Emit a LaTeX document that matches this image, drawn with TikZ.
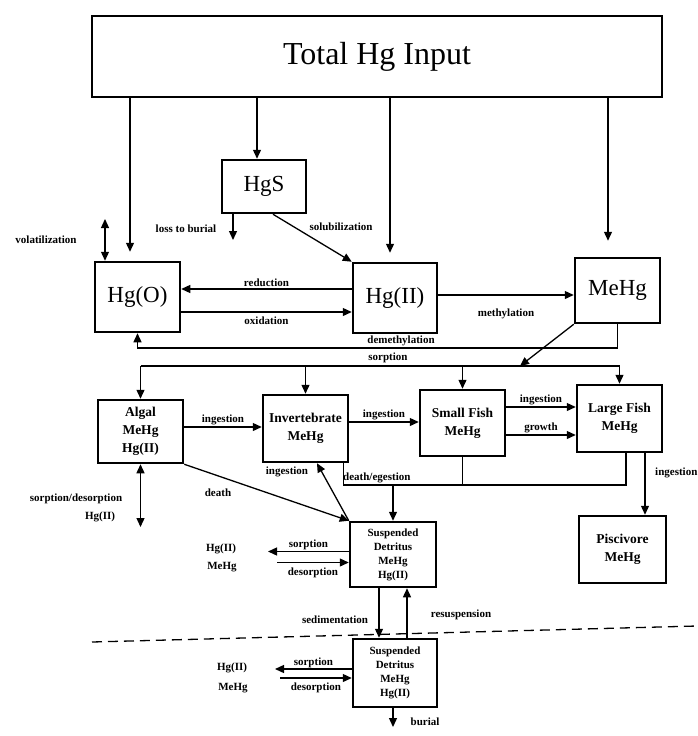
\documentclass[tikz,border=0pt]{standalone}
\usepackage{fontspec}
\setmainfont{Liberation Serif}
\usetikzlibrary{arrows.meta,calc,positioning}
\tikzset{wire/.style={line width=1.3pt}, flow/.style={wire, -{Triangle[length=9pt,width=8pt]}}, both/.style={wire, {Triangle[length=9pt,width=8pt]}-{Triangle[length=9pt,width=8pt]}}, box/.style={draw, line width=2.5pt, inner sep=0pt, align=center}, bigbox/.style={box, font=\fontsize{23}{26}\selectfont}, midbox/.style={box, font=\bfseries\fontsize{13.5}{18}\selectfont}, detbox/.style={box, font=\bfseries\fontsize{11}{14}\selectfont}, lab/.style={font=\bfseries\fontsize{11}{13}\selectfont, inner sep=1pt}}
\begin{document}
\begin{tikzpicture}[x=1pt,y=-1pt]
\useasboundingbox (0,0) rectangle (697,736);
\node[box, line width=1.8pt, minimum width=570pt, minimum height=81pt, font=\fontsize{32}{36}\selectfont] (total) at (377,56.5) {Total Hg Input};
\node[bigbox, minimum width=84pt, minimum height=53pt] (hgs) at (264,186.5) {HgS};
\node[bigbox, minimum width=85pt, minimum height=70pt] (hgo) at (137.5,297) {Hg(O)};
\node[bigbox, minimum width=84pt, minimum height=70pt] (hgii) at (395,298) {Hg(II)};
\node[bigbox, minimum width=85pt, minimum height=65pt] (mehg) at (617.5,290.5) {MeHg};
\node[midbox, minimum width=85pt, minimum height=63pt] (algal) at (140.5,431.5) {Algal\\MeHg\\Hg(II)};
\node[midbox, minimum width=85pt, minimum height=67pt] (invert) at (305.5,428.5) {Invertebrate\\MeHg};
\node[midbox, minimum width=85pt, minimum height=66pt] (small) at (462.5,423) {Small Fish\\MeHg};
\node[midbox, minimum width=85pt, minimum height=67pt] (large) at (619.5,418.5) {Large Fish\\MeHg};
\node[midbox, minimum width=87pt, minimum height=67pt] (pisc) at (622.5,549.5) {Piscivore\\MeHg};
\node[detbox, minimum width=86pt, minimum height=65pt] (detup) at (393,554.5) {Suspended\\Detritus\\MeHg\\Hg(II)};
\node[detbox, minimum width=84pt, minimum height=68pt] (detlow) at (395,673) {Suspended\\Detritus\\MeHg\\Hg(II)};

\coordinate (c1) at (130,0); \coordinate (c2) at (257,0); \coordinate (c3) at (390,0); \coordinate (c4) at (608,0);
\draw[flow, shorten >=9pt] (c1 |- total.south) -- (c1 |- hgo.north);
\draw[flow] (c2 |- total.south) -- (c2 |- hgs.north);
\draw[flow, shorten >=9pt] (c3 |- total.south) -- (c3 |- hgii.north);
\draw[flow, shorten >=16pt] (c4 |- total.south) -- (c4 |- mehg.north);

\coordinate (vol) at (105,219);
\draw[both] (vol) -- (vol |- hgo.north);
\node[lab] (lvol) at (46,240) {volatilization};
\coordinate (lb) at (233,240);
\draw[flow] (lb |- hgs.south) -- (lb);
\node[lab] (llb) at (186,229) {loss to burial};
\draw[flow] ([xshift=9pt]hgs.south) -- (hgii.north west);
\node[lab] (lsol) at (341,227) {solubilization};

\coordinate (rd) at ([yshift=9pt]hgii.west);
\draw[flow] (rd) -- (rd -| hgo.east) node[lab, midway, above=1pt] (lred) {reduction};
\coordinate (ox) at ([yshift=-15pt]hgo.east);
\draw[flow] (ox) -- (ox -| hgii.west) node[lab, midway, below=3pt] (lox) {oxidation};
\coordinate (me) at ([yshift=3pt]hgii.east);
\draw[flow] (me) -- (me -| mehg.west) node[lab, midway, below=12pt] (lme) {methylation};

\coordinate (dm) at (0,348);
\draw[flow] (mehg.south) -- (mehg.south |- dm) -| (hgo.south);
\node[lab] (ldm) at (401,341) {demethylation};

\coordinate (sp) at (0,366); \coordinate (sd) at (520,366);
\draw[flow] (mehg.south west) -- (sd);
\draw[wire] (algal.north |- sp) -- (large.north |- sp);
\foreach \b in {algal,invert,small,large} \draw[flow] (\b.north |- sp) -- (\b.north);
\node[lab] (lsp) at (388,358) {sorption};

\coordinate (i1) at ([yshift=4.5pt]algal.east);
\draw[flow] (i1) -- (i1 -| invert.west) node[lab, midway, above] (li1) {ingestion};
\coordinate (i2) at ([yshift=6.5pt]invert.east);
\draw[flow] (i2) -- (i2 -| small.west) node[lab, midway, above] (li2) {ingestion};
\coordinate (i3) at ([yshift=16pt]small.east);
\draw[flow] (i3) -- (i3 -| large.west) node[lab, midway, above] (li3) {ingestion};
\coordinate (gr) at ([yshift=-12pt]small.east);
\draw[flow] (gr) -- (gr -| large.west) node[lab, midway, above] (lgr) {growth};

\coordinate (de) at (0,485);
\coordinate (e1) at ([xshift=-6pt]invert.south east); \coordinate (e3) at ([xshift=6.5pt]large.south);
\draw[wire] (e1) -- (e1 |- de) -- (e3 |- de) -- (e3);
\draw[wire] (small.south) -- (small.south |- de);
\draw[flow] (detup.north |- de) -- (detup.north);
\node[lab, anchor=south west] (lde) at (342,484) {death/egestion};

\draw[flow] (algal.south east) -- (detup.north west);
\node[lab] (ld) at (218,493) {death};
\coordinate (iv) at ([xshift=11.5pt]invert.south);
\draw[flow] (detup.north west) -- (iv);
\node[lab] (li4) at (287,472) {ingestion};

\coordinate (sa) at (0,527);
\draw[both] (algal.south) -- (algal.south |- sa);
\node[lab] (lsa) at (76,499) {sorption/desorption};
\node[lab] (lsa2) at (100,517) {Hg(II)};

\coordinate (su) at ([yshift=3pt]detup.west); \coordinate (su2) at (268,0);
\draw[flow] (su) -- (su -| su2) node[lab, midway, above] (lsu) {sorption};
\coordinate (du) at ([yshift=-8pt]detup.west); \coordinate (du2) at (277,0);
\draw[flow] (du -| du2) -- (du) node[lab, midway, below=4pt] (ldu) {desorption};
\node[lab] (hgu) at (221,549) {Hg(II)};
\node[lab] (meu) at (222,567) {MeHg};

\coordinate (sdn) at ([xshift=-14pt]detup.south); \coordinate (sup) at ([xshift=12pt]detlow.north);
\draw[flow] (sdn) -- (sdn |- detlow.north);
\draw[flow] (sup) -- (sup |- detup.south);
\node[lab] (lsed) at (335,620) {sedimentation};
\node[lab] (lres) at (461,615) {resuspension};
\draw[wire, dash pattern=on 10pt off 6pt] (92,642) -- (697,626);

\coordinate (sl) at ([yshift=4pt]detlow.west); \coordinate (sl2) at (275,0);
\draw[flow] (sl) -- (sl -| sl2) node[lab, midway, above] (lsl) {sorption};
\coordinate (dl) at ([yshift=-5pt]detlow.west); \coordinate (dl2) at (280,0);
\draw[flow] (dl -| dl2) -- (dl) node[lab, midway, below=3pt] (ldl) {desorption};
\node[lab] (hgl) at (232,668) {Hg(II)};
\node[lab] (mel) at (233,688) {MeHg};

\coordinate (bt) at ([xshift=-2pt]detlow.south); \coordinate (bu) at (0,727);
\draw[flow] (bt) -- (bt |- bu);
\node[lab] (lbu) at (425,722) {burial};

\coordinate (pi) at ([xshift=25.5pt]large.south);
\draw[flow] (pi) -- (pi |- pisc.north);
\node[lab, anchor=west] (lpi) at (654,473) {ingestion};
\end{tikzpicture}
\end{document}
